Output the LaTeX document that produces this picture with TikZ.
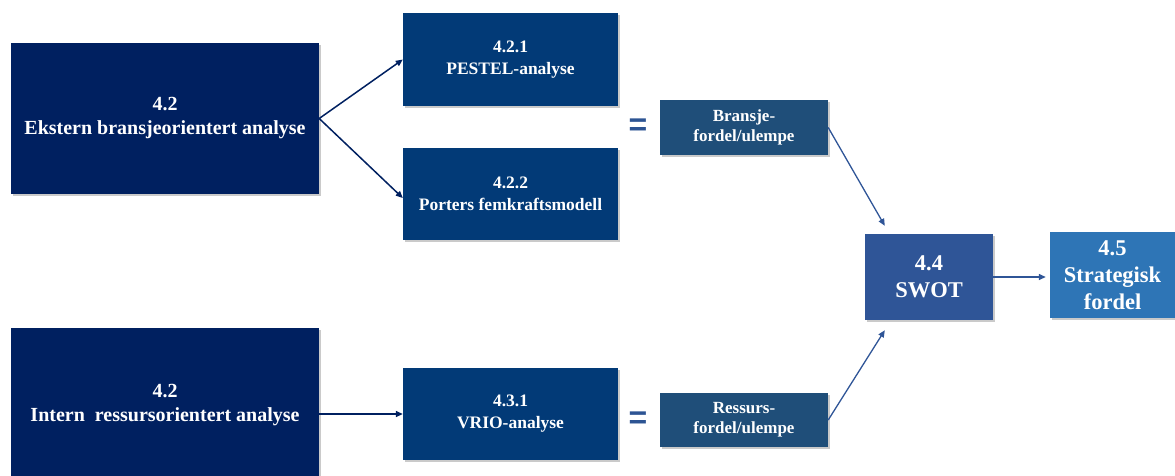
\documentclass[tikz,border=0pt]{standalone}
\usepackage{fontspec}
\setmainfont{Liberation Serif}
\newfontfamily\eqfont{Liberation Sans}
\usetikzlibrary{arrows.meta,shadows,calc}

\definecolor{navy}{HTML}{002060}
\definecolor{midblue}{HTML}{023A77}
\definecolor{steel}{HTML}{1F4E79}
\definecolor{swotblue}{HTML}{2F5597}
\definecolor{lightblue}{HTML}{2E75B6}

\tikzset{
  box/.style={rectangle, inner sep=0pt, align=center, text=white,
    font=\bfseries, drop shadow={shadow xshift=1.5pt, shadow yshift=-1.5pt,
    opacity=0.35, fill=black!60}},
  mainbox/.style={box, fill=navy, minimum width=308pt,
    font=\bfseries\fontsize{20}{24}\selectfont},
  subbox/.style={box, fill=midblue, minimum width=215pt, minimum height=92pt,
    font=\bfseries\fontsize{17.5}{22}\selectfont},
  resbox/.style={box, fill=steel, minimum width=168pt, minimum height=55pt,
    font=\bfseries\fontsize{17}{20}\selectfont},
  bigbox/.style={box, minimum height=86pt,
    font=\bfseries\fontsize{22.5}{27}\selectfont},
  eqsign/.style={text=swotblue!85!steel, font=\eqfont\bfseries\fontsize{32}{32}\selectfont,
    inner sep=0pt},
  darrow/.style={draw=navy, line width=1.5pt, -{Triangle[length=7pt,width=6pt]}},
  barrow/.style={draw=swotblue, line width=1.3pt, -{Triangle[length=7pt,width=6pt]}},
}

\begin{document}
\begin{tikzpicture}[x=1pt, y=-1pt]
\useasboundingbox (0,0) rectangle (1175,475);

% left column: external and internal analysis
\node[mainbox, minimum height=151pt] (ext) at (165,118.5)
  {4.2\\Ekstern bransjeorientert analyse};
\node[mainbox, minimum height=154pt] (int) at (165,405)
  {4.2\\Intern~ ressursorientert analyse};

% middle column: analysis tools
\node[subbox, minimum height=93pt] (pestel) at (510.5,59.5) {4.2.1\\PESTEL-analyse};
\node[subbox] (porter) at (510.5,194) {4.2.2\\Porters femkraftsmodell};
\node[subbox] (vrio) at (510.5,414) {4.3.1\\VRIO-analyse};

% equals signs and results
\node[eqsign] (eq1) at (638,127) {=};
\node[eqsign] (eq2) at (638,420) {=};
\node[resbox] (bransje) at (744,127.5) {Bransje-\\fordel/ulempe};
\node[resbox, minimum height=54pt] (ressurs) at (744,420) {Ressurs-\\fordel/ulempe};

% SWOT and strategic advantage
\node[bigbox, fill=swotblue, minimum width=128pt] (swot) at (929,277) {4.4\\SWOT};
\node[bigbox, fill=lightblue, minimum width=125pt] (strat) at (1112.5,275)
  {4.5\\Strategisk\\fordel};

\coordinate (swotin1) at ($(swot.north west)+(20,-8)$);
\coordinate (swotin2) at ($(swot.south west)+(20,10)$);

% connectors
\draw[darrow] (ext.east) -- (pestel.west);
\draw[darrow] (ext.east) -- ([yshift=-4pt]porter.west);
\draw[darrow] (int.east |- vrio.west) -- (vrio.west);
\draw[barrow] (bransje.east) -- (swotin1);
\draw[barrow] (ressurs.east) -- (swotin2);
\draw[barrow, shorten >=4pt] (swot.east) -- (swot.east -| strat.west);
\end{tikzpicture}
\end{document}
